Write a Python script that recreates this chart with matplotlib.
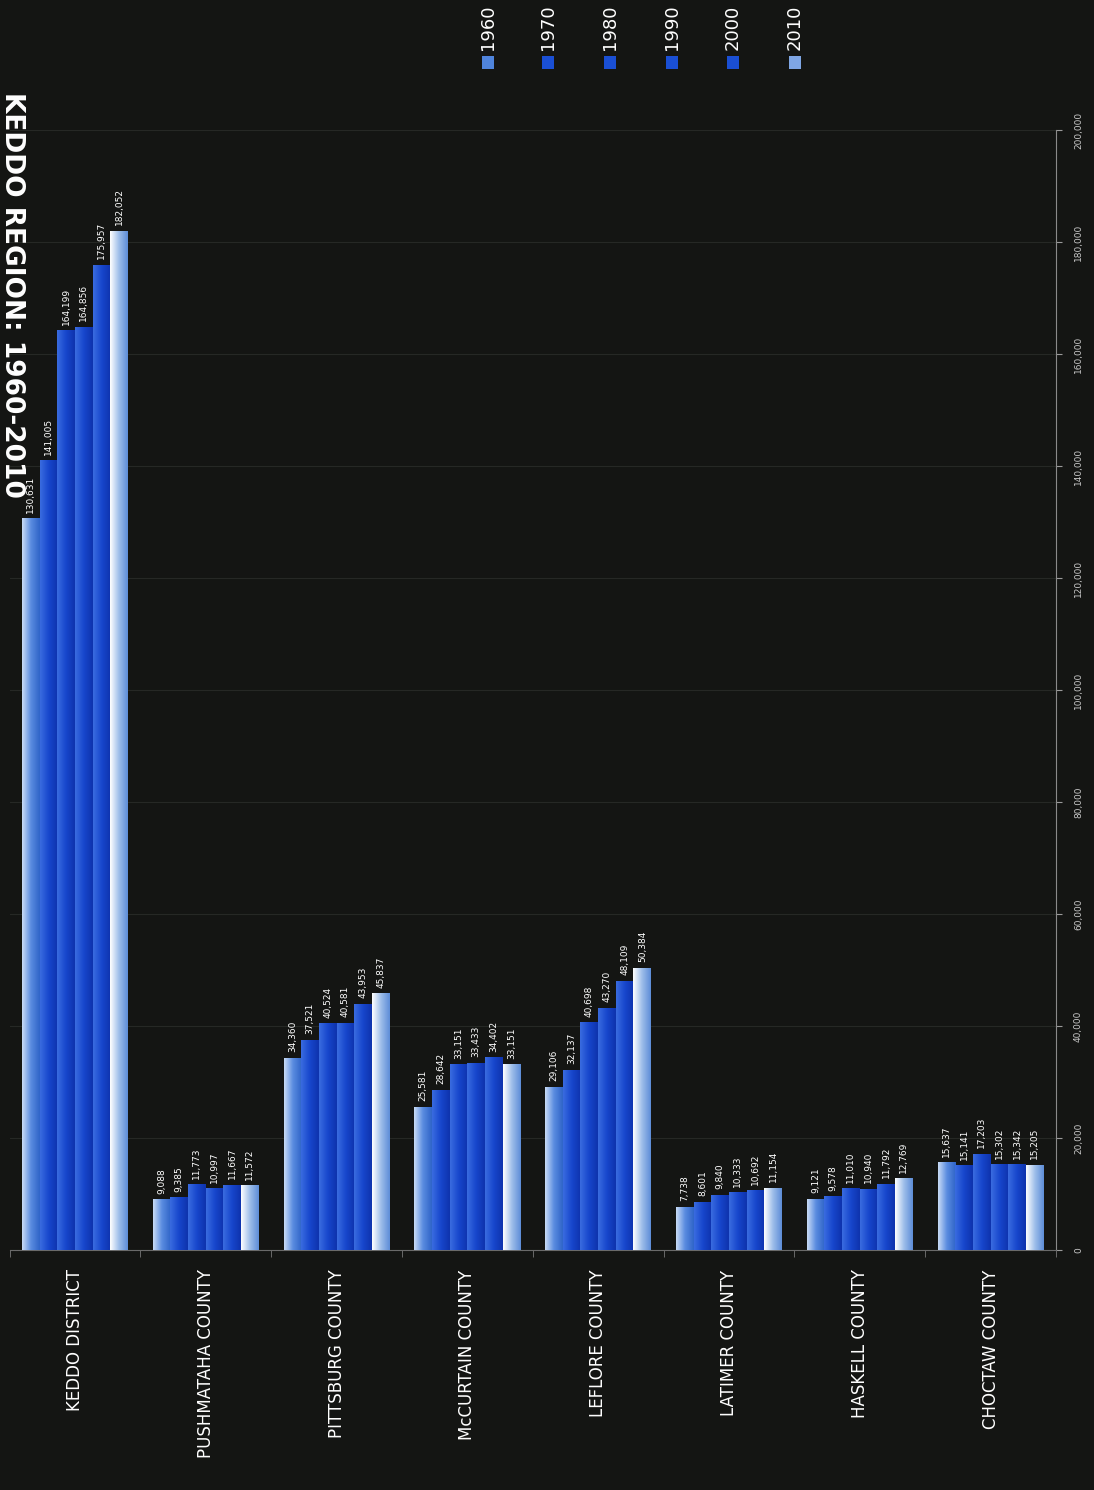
import matplotlib.pyplot as plt
import numpy as np
from matplotlib.colors import LinearSegmentedColormap
from matplotlib.patches import Rectangle
from matplotlib.ticker import FuncFormatter

plt.switch_backend("Agg")

areas = ["KEDDO DISTRICT", "PUSHMATAHA COUNTY", "PITTSBURG COUNTY", "McCURTAIN COUNTY",
         "LEFLORE COUNTY", "LATIMER COUNTY", "HASKELL COUNTY", "CHOCTAW COUNTY"]
years = ["1960", "1970", "1980", "1990", "2000", "2010"]

pop_1960 = [130631, 9088, 34360, 25581, 29106, 7738, 9121, 15637]
pop_1970 = [141005, 9385, 37521, 28642, 32137, 8601, 9578, 15141]
pop_1980 = [164199, 11773, 40524, 33151, 40698, 9840, 11010, 17203]
pop_1990 = [164856, 10997, 40581, 33433, 43270, 10333, 10940, 15302]
pop_2000 = [175957, 11667, 43953, 34402, 48109, 10692, 11792, 15342]
pop_2010 = [182052, 11572, 45837, 33151, 50384, 11154, 12769, 15205]
series = [pop_1960, pop_1970, pop_1980, pop_1990, pop_2000, pop_2010]

# left-to-right shading of each bar (light edge -> body -> dark edge)
shades = [
    ["#c9dcf6", "#5a8ce0", "#2f64c8"],
    ["#3a6ce0", "#1746cc", "#0e33ad"],
    ["#3a6ce0", "#1746cc", "#0e33ad"],
    ["#3a6ce0", "#1746cc", "#0e33ad"],
    ["#3a6ce0", "#1746cc", "#0e33ad"],
    ["#ffffff", "#9ebeea", "#5d8dd8"],
]
legend_colors = ["#4f84dc", "#1a4fd4", "#1a4fd4", "#1a4fd4", "#1a4fd4", "#7fa6e4"]

bg = "#141513"
W, H = 1094, 1490
fig = plt.figure(figsize=(W / 100, H / 100), dpi=100, facecolor=bg)
ax = fig.add_axes([9.5 / W, 240 / H, (1056 - 9.5) / W, 1120 / H], facecolor=bg)

x = np.arange(len(areas))
width = 0.135
grad = np.linspace(0, 1, 64).reshape(1, -1)

for i, (vals, year) in enumerate(zip(series, years)):
    pos = x + (i - 2.5) * width
    bars = ax.bar(pos, vals, width, color=shades[i][1], linewidth=0, zorder=2)
    cmap = LinearSegmentedColormap.from_list(f"s{i}", shades[i])
    for bar, v in zip(bars, vals):
        x0 = bar.get_x()
        im = ax.imshow(grad, extent=[x0, x0 + bar.get_width(), 0, v], aspect="auto",
                       cmap=cmap, zorder=3, interpolation="bicubic")
        im.set_clip_path(bar)
        ax.annotate(f"{v:,}", (x0 + bar.get_width() / 2, v), xytext=(0, 4),
                    textcoords="offset points", rotation=90, ha="center", va="bottom",
                    fontsize=6.5, color="white", zorder=4)

ax.set_xlim(-0.5, len(areas) - 0.5)
ax.set_ylim(0, 200000)

ax.yaxis.tick_right()
ax.set_yticks(np.arange(0, 200001, 20000))
ax.yaxis.set_major_formatter(FuncFormatter(lambda v, p: f"{int(v):,}"))
ax.tick_params(axis="y", colors="#9a9a9a", labelcolor="#c8c8c8", labelsize=6.5,
               labelrotation=90, length=4, pad=9)
for lbl in ax.get_yticklabels():
    lbl.set_va("center")
ax.grid(axis="y", color="#262825", linewidth=0.8, zorder=0)

ax.set_xticks(x)
ax.set_xticklabels(areas, rotation=90, fontsize=12, color="white")
ax.tick_params(axis="x", length=0, pad=14)
ax.set_xticks(np.arange(-0.5, len(areas)), minor=True)
ax.tick_params(axis="x", which="minor", length=5, color="#777777")

for side in ["top", "left"]:
    ax.spines[side].set_visible(False)
ax.spines["right"].set_color("#8a8a8a")
ax.spines["bottom"].set_color("#6a6a6a")

# legend: one rotated label above a small swatch per year
legend_x = [488, 548, 610, 672, 733, 795]
for lx, year, c in zip(legend_x, years, legend_colors):
    fig.add_artist(Rectangle(((lx - 6) / W, 1 - 69 / H), 12 / W, 13 / H,
                             transform=fig.transFigure, facecolor=c, edgecolor="none"))
    fig.text(lx / W, 1 - 50 / H, year, rotation=90, ha="center", va="bottom",
             fontsize=13, color="white")

fig.text(12 / W, 1 - 295 / H, "KEDDO REGION: 1960-2010", rotation=-90, ha="center",
         va="center", fontsize=19, fontweight="bold", color="white")

fig.savefig("out.png", dpi=100, facecolor=bg)
plt.close(fig)
